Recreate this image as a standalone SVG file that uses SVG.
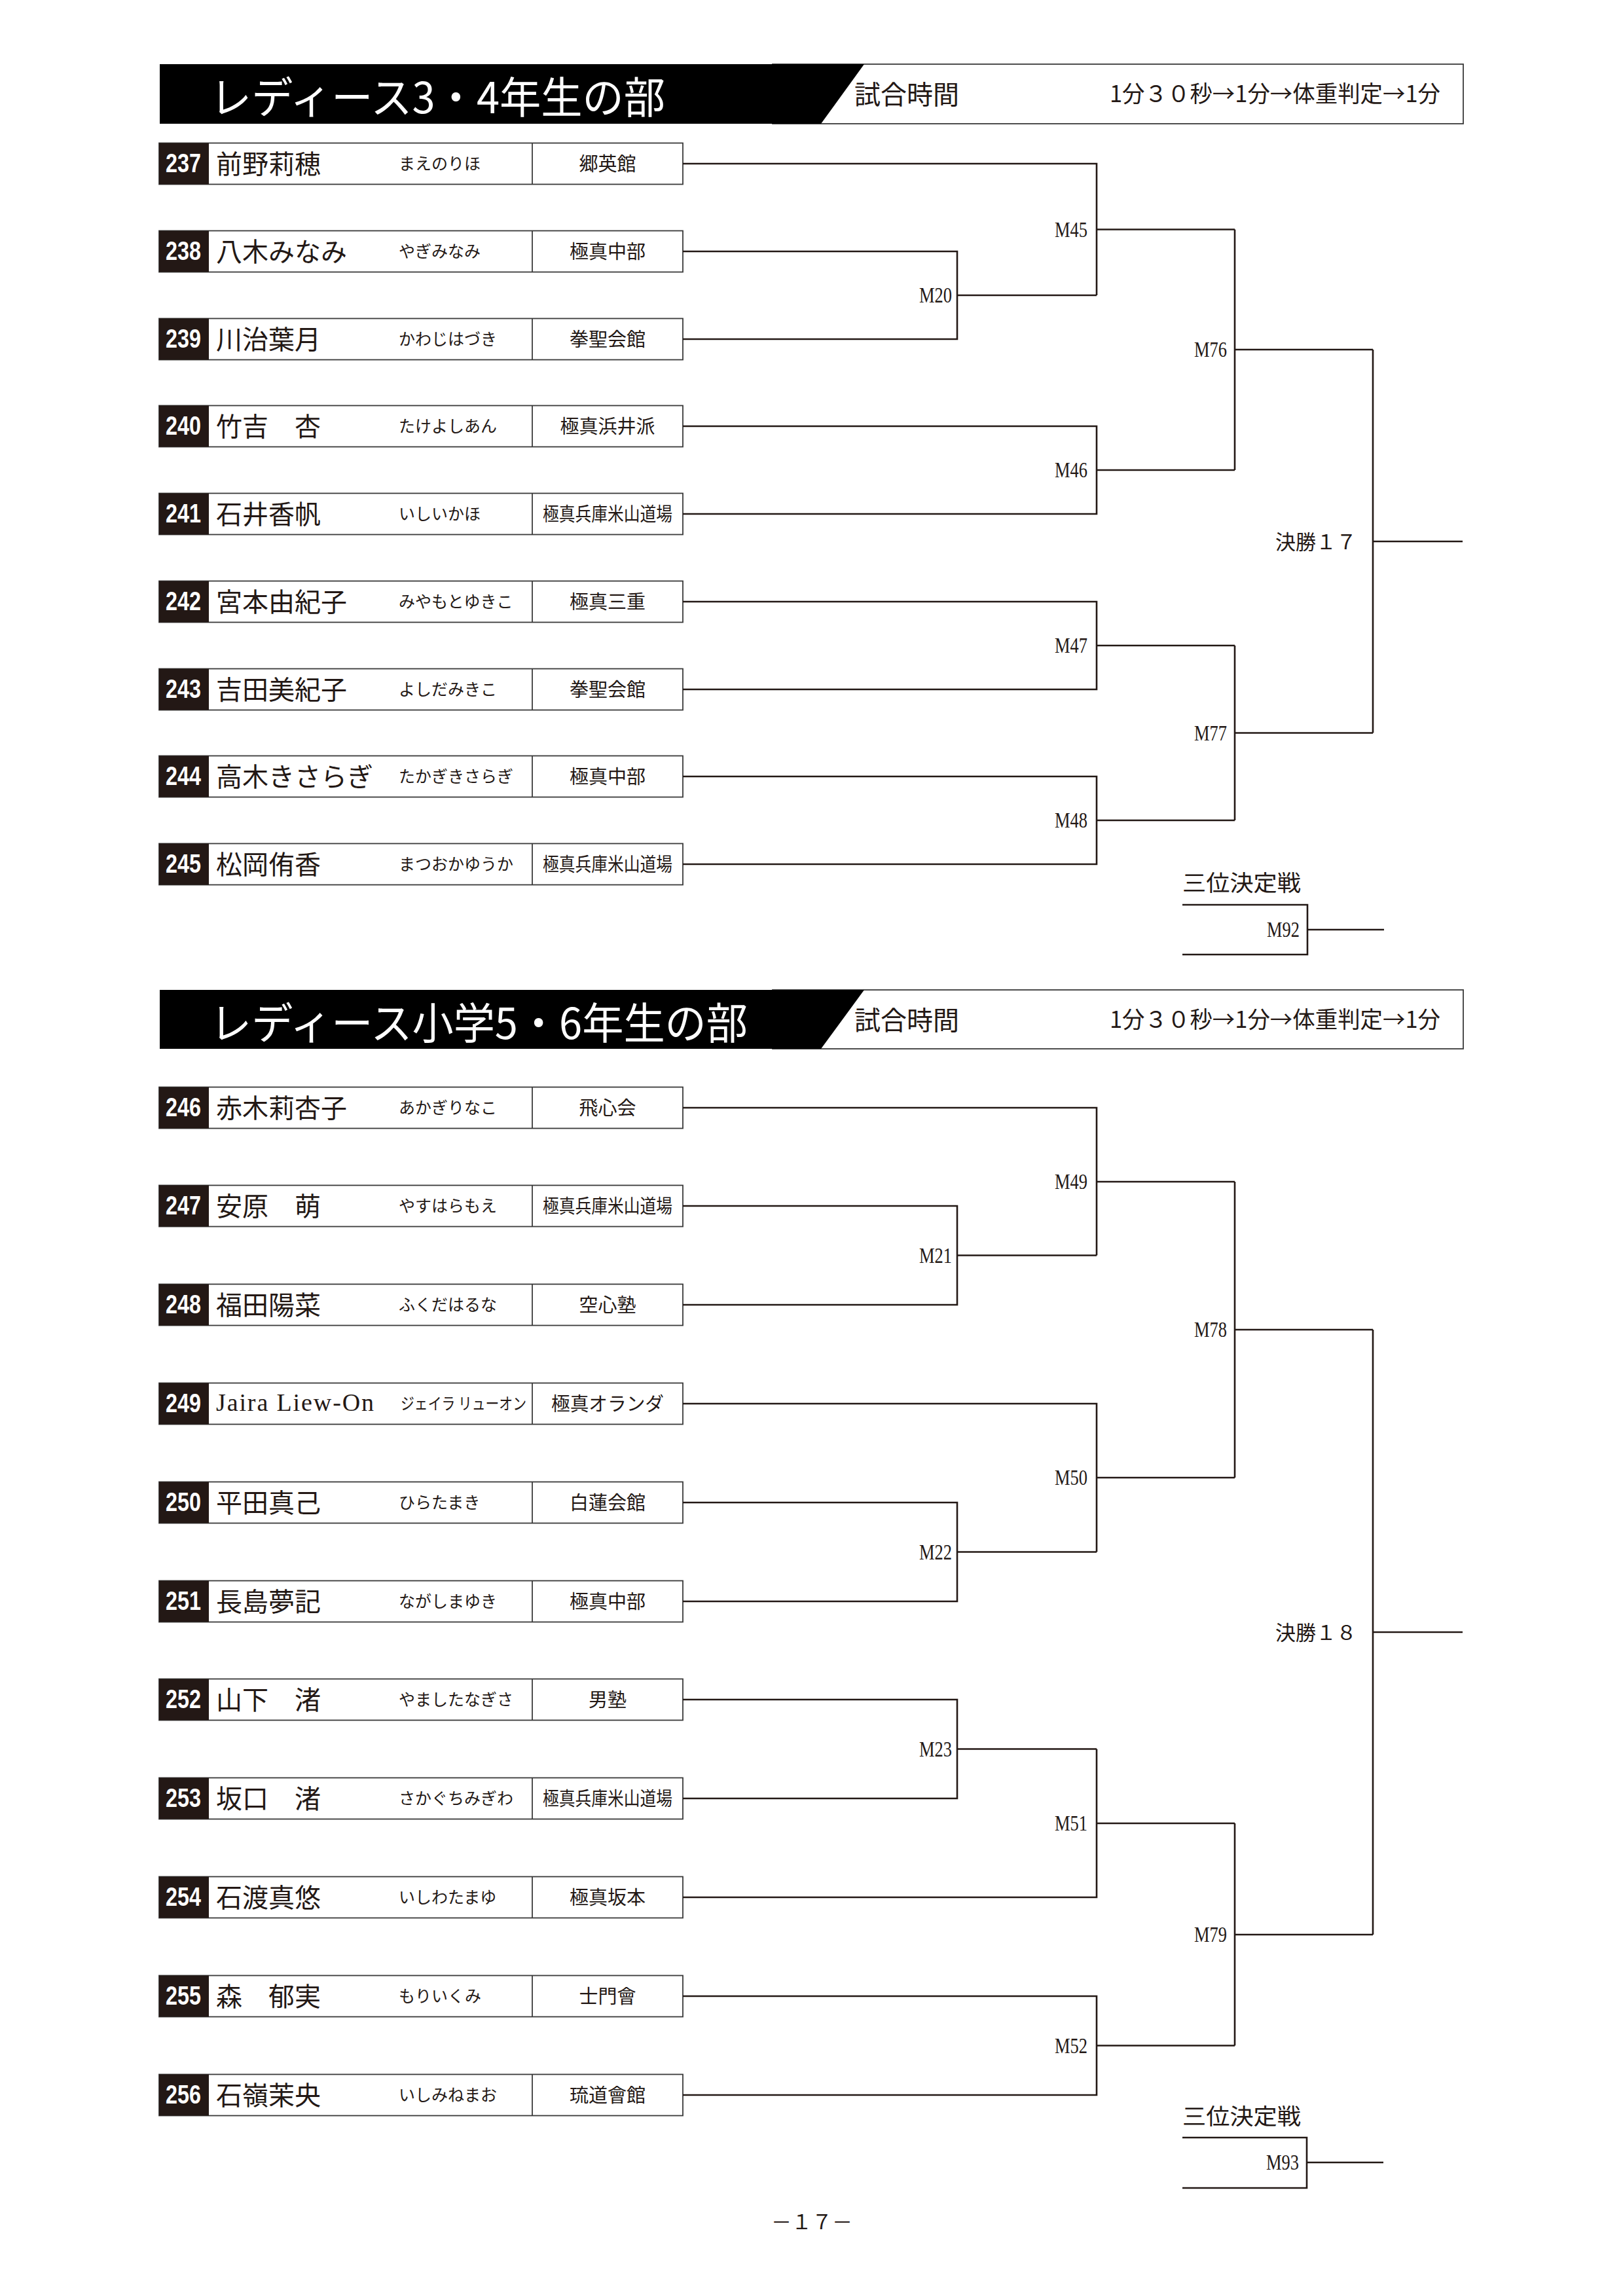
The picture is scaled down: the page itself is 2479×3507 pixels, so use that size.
<svg xmlns="http://www.w3.org/2000/svg" width="2479" height="3507" viewBox="0 0 2479 3507">
<style>
text{dominant-baseline:central}
.bg{fill:#fff}
.hbox{fill:#fff;stroke:#3a3a3a;stroke-width:1.8}
.hblack{fill:#000}
.htitle{font-family:"Noto Sans CJK JP",sans-serif;font-size:66px;fill:#fff}
.hlabel{font-family:"Noto Sans CJK JP",sans-serif;font-size:40px;fill:#231815}
.htime{font-family:"Noto Sans CJK JP",sans-serif;font-size:35px;fill:#231815}
.box{fill:#fff;stroke:#3a3a3a;stroke-width:1.8}
.numbox{fill:#231815}
.nt{font-family:"Liberation Sans",Arial,sans-serif;font-weight:bold;font-size:40px;fill:#fff;text-anchor:middle}
.name{font-family:"Noto Sans CJK JP",sans-serif;font-size:40px;fill:#231815}
.latin{font-family:"Liberation Serif",serif;font-size:38px;fill:#231815}
.kana{font-family:"Noto Sans CJK JP",sans-serif;font-size:25px;fill:#231815}
.dojo{font-family:"Noto Sans CJK JP",sans-serif;font-size:29px;fill:#231815;text-anchor:middle}
.ln{fill:none;stroke:#231815;stroke-width:2.6}
.ml{font-family:"Liberation Serif",serif;font-size:33px;fill:#231815;text-anchor:end}
.fin{font-family:"Noto Sans CJK JP",sans-serif;font-size:31px;fill:#231815}
.third{font-family:"Noto Sans CJK JP",sans-serif;font-size:34px;fill:#231815}
.page{font-family:"Noto Sans CJK JP",sans-serif;font-size:31px;fill:#231815;text-anchor:middle}
</style>
<defs>
<g id="row">
<rect class="box" x="243" y="-31.5" width="800" height="63"/>
<rect class="numbox" x="243" y="-31.5" width="76" height="63"/>
<line x1="813" y1="-31.5" x2="813" y2="31.5" stroke="#3a3a3a" stroke-width="1.8"/>
</g>
</defs>
<rect class="bg" x="0" y="0" width="2479" height="3507"/>

<!-- Header 1 -->
<g id="header1">
<rect class="hbox" x="1180" y="98" width="1055" height="91"/>
<polygon class="hblack" points="244,98 1320,98 1254,189 244,189"/>
<text class="htitle" x="321" y="144" textLength="695" lengthAdjust="spacingAndGlyphs">レディース3・4年生の部</text>
<text class="hlabel" x="1305" y="142">試合時間</text>
<text class="htime" x="1695" y="140" textLength="505" lengthAdjust="spacingAndGlyphs">1分３０秒→1分→体重判定→1分</text>
</g>

<!-- Section 1 rows -->
<g id="p237" transform="translate(0,250)"><use href="#row"/><text class="nt" x="280" y="-1" textLength="54" lengthAdjust="spacingAndGlyphs">237</text><text class="name" x="330" y="-2">前野莉穂</text><text class="kana" x="609" y="-2">まえのりほ</text><text class="dojo" x="928" y="-2">郷英館</text></g>
<g id="p238" transform="translate(0,384)"><use href="#row"/><text class="nt" x="280" y="-1" textLength="54" lengthAdjust="spacingAndGlyphs">238</text><text class="name" x="330" y="-2">八木みなみ</text><text class="kana" x="609" y="-2">やぎみなみ</text><text class="dojo" x="928" y="-2">極真中部</text></g>
<g id="p239" transform="translate(0,518)"><use href="#row"/><text class="nt" x="280" y="-1" textLength="54" lengthAdjust="spacingAndGlyphs">239</text><text class="name" x="330" y="-2">川治葉月</text><text class="kana" x="609" y="-2">かわじはづき</text><text class="dojo" x="928" y="-2">拳聖会館</text></g>
<g id="p240" transform="translate(0,651)"><use href="#row"/><text class="nt" x="280" y="-1" textLength="54" lengthAdjust="spacingAndGlyphs">240</text><text class="name" x="330" y="-2">竹吉　杏</text><text class="kana" x="609" y="-2">たけよしあん</text><text class="dojo" x="928" y="-2">極真浜井派</text></g>
<g id="p241" transform="translate(0,785)"><use href="#row"/><text class="nt" x="280" y="-1" textLength="54" lengthAdjust="spacingAndGlyphs">241</text><text class="name" x="330" y="-2">石井香帆</text><text class="kana" x="609" y="-2">いしいかほ</text><text class="dojo" x="928" y="-2" textLength="198" lengthAdjust="spacingAndGlyphs">極真兵庫米山道場</text></g>
<g id="p242" transform="translate(0,919)"><use href="#row"/><text class="nt" x="280" y="-1" textLength="54" lengthAdjust="spacingAndGlyphs">242</text><text class="name" x="330" y="-2">宮本由紀子</text><text class="kana" x="609" y="-2">みやもとゆきこ</text><text class="dojo" x="928" y="-2">極真三重</text></g>
<g id="p243" transform="translate(0,1053)"><use href="#row"/><text class="nt" x="280" y="-1" textLength="54" lengthAdjust="spacingAndGlyphs">243</text><text class="name" x="330" y="-2">吉田美紀子</text><text class="kana" x="609" y="-2">よしだみきこ</text><text class="dojo" x="928" y="-2">拳聖会館</text></g>
<g id="p244" transform="translate(0,1186)"><use href="#row"/><text class="nt" x="280" y="-1" textLength="54" lengthAdjust="spacingAndGlyphs">244</text><text class="name" x="330" y="-2">高木きさらぎ</text><text class="kana" x="609" y="-2">たかぎきさらぎ</text><text class="dojo" x="928" y="-2">極真中部</text></g>
<g id="p245" transform="translate(0,1320)"><use href="#row"/><text class="nt" x="280" y="-1" textLength="54" lengthAdjust="spacingAndGlyphs">245</text><text class="name" x="330" y="-2">松岡侑香</text><text class="kana" x="609" y="-2">まつおかゆうか</text><text class="dojo" x="928" y="-2" textLength="198" lengthAdjust="spacingAndGlyphs">極真兵庫米山道場</text></g>

<!-- Header 2 -->
<g id="header2">
<rect class="hbox" x="1180" y="1512" width="1055" height="90"/>
<polygon class="hblack" points="244,1512 1320,1512 1254,1602 244,1602"/>
<text class="htitle" x="321" y="1558" textLength="821" lengthAdjust="spacingAndGlyphs">レディース小学5・6年生の部</text>
<text class="hlabel" x="1305" y="1556">試合時間</text>
<text class="htime" x="1695" y="1554" textLength="505" lengthAdjust="spacingAndGlyphs">1分３０秒→1分→体重判定→1分</text>
</g>

<!-- Section 2 rows -->
<g id="p246" transform="translate(0,1692)"><use href="#row"/><text class="nt" x="280" y="-1" textLength="54" lengthAdjust="spacingAndGlyphs">246</text><text class="name" x="330" y="-2">赤木莉杏子</text><text class="kana" x="609" y="-2">あかぎりなこ</text><text class="dojo" x="928" y="-2">飛心会</text></g>
<g id="p247" transform="translate(0,1842)"><use href="#row"/><text class="nt" x="280" y="-1" textLength="54" lengthAdjust="spacingAndGlyphs">247</text><text class="name" x="330" y="-2">安原　萌</text><text class="kana" x="609" y="-2">やすはらもえ</text><text class="dojo" x="928" y="-2" textLength="198" lengthAdjust="spacingAndGlyphs">極真兵庫米山道場</text></g>
<g id="p248" transform="translate(0,1993)"><use href="#row"/><text class="nt" x="280" y="-1" textLength="54" lengthAdjust="spacingAndGlyphs">248</text><text class="name" x="330" y="-2">福田陽菜</text><text class="kana" x="609" y="-2">ふくだはるな</text><text class="dojo" x="928" y="-2">空心塾</text></g>
<g id="p249" transform="translate(0,2144)"><use href="#row"/><text class="nt" x="280" y="-1" textLength="54" lengthAdjust="spacingAndGlyphs">249</text><text class="latin" x="330" y="-2" textLength="241" lengthAdjust="spacing">Jaira Liew-On</text><text class="kana" x="612" y="-2" textLength="192" lengthAdjust="spacingAndGlyphs">ジェイラ リューオン</text><text class="dojo" x="928" y="-2" textLength="172" lengthAdjust="spacingAndGlyphs">極真オランダ</text></g>
<g id="p250" transform="translate(0,2295)"><use href="#row"/><text class="nt" x="280" y="-1" textLength="54" lengthAdjust="spacingAndGlyphs">250</text><text class="name" x="330" y="-2">平田真己</text><text class="kana" x="609" y="-2">ひらたまき</text><text class="dojo" x="928" y="-2">白蓮会館</text></g>
<g id="p251" transform="translate(0,2446)"><use href="#row"/><text class="nt" x="280" y="-1" textLength="54" lengthAdjust="spacingAndGlyphs">251</text><text class="name" x="330" y="-2">長島夢記</text><text class="kana" x="609" y="-2">ながしまゆき</text><text class="dojo" x="928" y="-2">極真中部</text></g>
<g id="p252" transform="translate(0,2596)"><use href="#row"/><text class="nt" x="280" y="-1" textLength="54" lengthAdjust="spacingAndGlyphs">252</text><text class="name" x="330" y="-2">山下　渚</text><text class="kana" x="609" y="-2">やましたなぎさ</text><text class="dojo" x="928" y="-2">男塾</text></g>
<g id="p253" transform="translate(0,2747)"><use href="#row"/><text class="nt" x="280" y="-1" textLength="54" lengthAdjust="spacingAndGlyphs">253</text><text class="name" x="330" y="-2">坂口　渚</text><text class="kana" x="609" y="-2">さかぐちみぎわ</text><text class="dojo" x="928" y="-2" textLength="198" lengthAdjust="spacingAndGlyphs">極真兵庫米山道場</text></g>
<g id="p254" transform="translate(0,2898)"><use href="#row"/><text class="nt" x="280" y="-1" textLength="54" lengthAdjust="spacingAndGlyphs">254</text><text class="name" x="330" y="-2">石渡真悠</text><text class="kana" x="609" y="-2">いしわたまゆ</text><text class="dojo" x="928" y="-2">極真坂本</text></g>
<g id="p255" transform="translate(0,3049)"><use href="#row"/><text class="nt" x="280" y="-1" textLength="54" lengthAdjust="spacingAndGlyphs">255</text><text class="name" x="330" y="-2">森　郁実</text><text class="kana" x="609" y="-2">もりいくみ</text><text class="dojo" x="928" y="-2">士門會</text></g>
<g id="p256" transform="translate(0,3200)"><use href="#row"/><text class="nt" x="280" y="-1" textLength="54" lengthAdjust="spacingAndGlyphs">256</text><text class="name" x="330" y="-2">石嶺茉央</text><text class="kana" x="609" y="-2">いしみねまお</text><text class="dojo" x="928" y="-2">琉道會館</text></g>

<!-- Connectors -->
<g id="connectors" class="ln">
<!-- section 1 -->
<path d="M1043,384 H1462 V518 H1043"/>
<path d="M1462,451 H1675"/>
<path d="M1043,250 H1675 V451"/>
<path d="M1675,350.5 H1886"/>
<path d="M1043,651 H1675 V785 H1043"/>
<path d="M1675,718 H1886"/>
<path d="M1886,350.5 V718"/>
<path d="M1886,534 H2097"/>
<path d="M1043,919 H1675 V1053 H1043"/>
<path d="M1675,986 H1886"/>
<path d="M1043,1186 H1675 V1320 H1043"/>
<path d="M1675,1253 H1886"/>
<path d="M1886,986 V1253"/>
<path d="M1886,1119.5 H2097"/>
<path d="M2097,534 V1119.5"/>
<path d="M2097,827 H2234"/>
<path d="M1806,1382 H1997 V1458 H1806"/>
<path d="M1997,1420 H2114"/>
<!-- section 2 -->
<path d="M1043,1842 H1462 V1993 H1043"/>
<path d="M1462,1917.5 H1675"/>
<path d="M1043,1692 H1675 V1917.5"/>
<path d="M1675,1805 H1886"/>
<path d="M1043,2295 H1462 V2446 H1043"/>
<path d="M1462,2370.5 H1675"/>
<path d="M1043,2144 H1675 V2370.5"/>
<path d="M1675,2257 H1886"/>
<path d="M1886,1805 V2257"/>
<path d="M1886,2031 H2097"/>
<path d="M1043,2596 H1462 V2747 H1043"/>
<path d="M1462,2671.5 H1675"/>
<path d="M1675,2671.5 V2898 H1043"/>
<path d="M1675,2785 H1886"/>
<path d="M1043,3049 H1675 V3200 H1043"/>
<path d="M1675,3124.5 H1886"/>
<path d="M1886,2785 V3124.5"/>
<path d="M1886,2955 H2097"/>
<path d="M2097,2031 V2955"/>
<path d="M2097,2493 H2234"/>
<path d="M1806,3265 H1996 V3342 H1806"/>
<path d="M1996,3303 H2113"/>
</g>

<!-- Match labels -->
<g id="M20"><text class="ml" x="1454" y="451" textLength="50" lengthAdjust="spacingAndGlyphs">M20</text></g>
<g id="M45"><text class="ml" x="1661" y="350.5" textLength="50" lengthAdjust="spacingAndGlyphs">M45</text></g>
<g id="M46"><text class="ml" x="1661" y="718" textLength="50" lengthAdjust="spacingAndGlyphs">M46</text></g>
<g id="M47"><text class="ml" x="1661" y="986" textLength="50" lengthAdjust="spacingAndGlyphs">M47</text></g>
<g id="M48"><text class="ml" x="1661" y="1253" textLength="50" lengthAdjust="spacingAndGlyphs">M48</text></g>
<g id="M76"><text class="ml" x="1874" y="534" textLength="50" lengthAdjust="spacingAndGlyphs">M76</text></g>
<g id="M77"><text class="ml" x="1874" y="1120" textLength="50" lengthAdjust="spacingAndGlyphs">M77</text></g>
<g id="F17"><text class="fin" x="1948" y="825">決勝１７</text></g>
<g id="third1"><text class="third" x="1806" y="1346" textLength="181" lengthAdjust="spacingAndGlyphs">三位決定戦</text></g>
<g id="M92"><text class="ml" x="1985" y="1420" textLength="50" lengthAdjust="spacingAndGlyphs">M92</text></g>

<g id="M21"><text class="ml" x="1454" y="1917.5" textLength="50" lengthAdjust="spacingAndGlyphs">M21</text></g>
<g id="M49"><text class="ml" x="1661" y="1805" textLength="50" lengthAdjust="spacingAndGlyphs">M49</text></g>
<g id="M22"><text class="ml" x="1454" y="2370.5" textLength="50" lengthAdjust="spacingAndGlyphs">M22</text></g>
<g id="M50"><text class="ml" x="1661" y="2257" textLength="50" lengthAdjust="spacingAndGlyphs">M50</text></g>
<g id="M78"><text class="ml" x="1874" y="2031" textLength="50" lengthAdjust="spacingAndGlyphs">M78</text></g>
<g id="M23"><text class="ml" x="1454" y="2671.5" textLength="50" lengthAdjust="spacingAndGlyphs">M23</text></g>
<g id="M51"><text class="ml" x="1661" y="2785" textLength="50" lengthAdjust="spacingAndGlyphs">M51</text></g>
<g id="M52"><text class="ml" x="1661" y="3124.5" textLength="50" lengthAdjust="spacingAndGlyphs">M52</text></g>
<g id="M79"><text class="ml" x="1874" y="2955" textLength="50" lengthAdjust="spacingAndGlyphs">M79</text></g>
<g id="F18"><text class="fin" x="1948" y="2491">決勝１８</text></g>
<g id="third2"><text class="third" x="1806" y="3230" textLength="181" lengthAdjust="spacingAndGlyphs">三位決定戦</text></g>
<g id="M93"><text class="ml" x="1984" y="3303" textLength="50" lengthAdjust="spacingAndGlyphs">M93</text></g>

<text class="page" x="1240" y="3391">－１７－</text>
</svg>
